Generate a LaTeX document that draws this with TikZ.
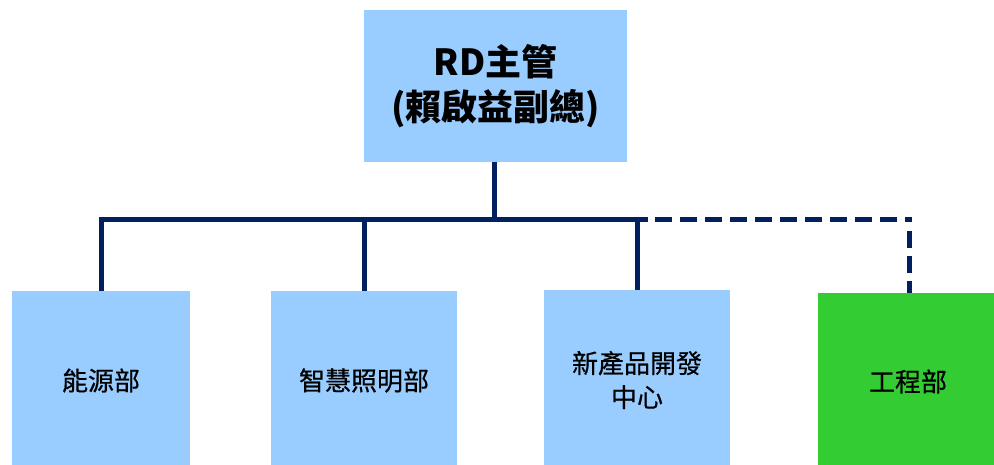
\documentclass[tikz,border=0pt]{standalone}
\usepackage{fontspec}
\setmainfont{Noto Sans CJK TC}
\newfontfamily\medfont[FakeBold=0.5]{Noto Sans CJK TC}
\begin{document}
\begin{tikzpicture}[x=1pt,y=-1pt,
  boxblue/.style={fill=boxb, draw=none, inner sep=0pt, align=center, font=\medfont\fontsize{26}{34}\selectfont},
  boxgreen/.style={fill=boxg, draw=none, inner sep=0pt, align=center, font=\medfont\fontsize{26}{34}\selectfont},
  conn/.style={draw=lineblue, line width=5pt},
  connd/.style={draw=lineblue, line width=5pt, dash pattern=on 17pt off 8pt}]
\definecolor{boxb}{HTML}{99CCFF}
\definecolor{boxg}{HTML}{33CC33}
\definecolor{lineblue}{HTML}{002060}
\useasboundingbox (0,0) rectangle (994,465);
\node[boxblue, minimum width=263pt, minimum height=152pt, font=\rmfamily\fontsize{36}{45}\selectfont\bfseries] (top) at (495.5,86) {RD主管\\(賴啟益副總)};
\node[boxblue, minimum width=178pt, minimum height=179pt] (b1) at (101,380.5) {能源部};
\node[boxblue, minimum width=186pt, minimum height=179pt] (b2) at (364,380.5) {智慧照明部};
\node[boxblue, minimum width=186pt, minimum height=180pt] (b3) at (637,380) {新產品開發\\中心};
\node[boxgreen, minimum width=176pt, minimum height=177pt] (b4) at (906,381.5) {\hspace*{4pt}工程部};
\coordinate (h) at (494,220);
\coordinate (dstart) at (655,220);
\coordinate (dend) at (911.5,220);
\coordinate (dv) at (909,231);
\draw[conn] (top.south -| h) -- (h);
\draw[conn] (b1.north) -- (b1.north |- h) -- (648,220);
\draw[conn] (b2.north) -- (b2.north |- h);
\draw[conn] (b3.north) -- (b3.north |- h);
\draw[connd] (dstart) -- (dend);
\draw[connd] (dv) -- (dv |- b4.north);
\end{tikzpicture}
\end{document}
